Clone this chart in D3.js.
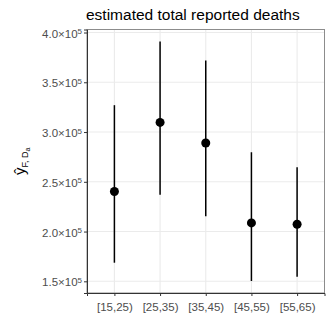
<!DOCTYPE html>
<html>
<head>
<meta charset="utf-8">
<script src="https://cdn.jsdelivr.net/npm/d3@7"></script>
<style>
body { margin: 0; background: #fff; }
svg text { font-family: "Liberation Sans", Arial, sans-serif; }
</style>
</head>
<body>
<div id="canvas"></div>
<script>
var groups = ["[15,25)", "[25,35)", "[35,45)", "[45,55)", "[55,65)"];
var estimate = [240300, 309700, 289000, 208700, 207300];
var lower = [168700, 237000, 215300, 150300, 154700];
var upper = [327000, 391000, 372000, 279700, 264700];
var yTicks = [150000, 200000, 250000, 300000, 350000, 400000];

var width = 332, height = 332;
var pLeft = 87, pRight = 324.5, pTop = 29.5, pBottom = 293;

var svg = d3.select("#canvas").append("svg")
	.attr("width", width)
	.attr("height", height);

// discrete axis, ggplot style: 0.6 unit padding each side
var x = d3.scalePoint().domain(groups)
	.range([pLeft, pRight]).padding(0.6);

var lo = d3.min(lower), hi = d3.max(upper);
var pad = (hi - lo) * 0.05;
var y = d3.scaleLinear().domain([lo - pad, hi + pad]).range([pBottom, pTop]);

// grid
svg.append("g").selectAll("line").data(yTicks).enter().append("line")
	.attr("x1", pLeft).attr("x2", pRight)
	.attr("y1", function (d) { return y(d); })
	.attr("y2", function (d) { return y(d); })
	.style("stroke", "#ebebeb").style("stroke-width", 1.1);
svg.append("g").selectAll("line").data(groups).enter().append("line")
	.attr("x1", function (d) { return x(d); })
	.attr("x2", function (d) { return x(d); })
	.attr("y1", pTop).attr("y2", pBottom)
	.style("stroke", "#ebebeb").style("stroke-width", 1.1);

// border
svg.append("rect")
	.attr("x", pLeft).attr("y", pTop)
	.attr("width", pRight - pLeft).attr("height", pBottom - pTop)
	.style("fill", "none").style("stroke", "#8c8c8c").style("stroke-width", 1);

// axes
var yAxis = svg.append("g")
	.attr("transform", "translate(" + pLeft + ",0)")
	.call(d3.axisLeft(y).tickValues(yTicks).tickSize(3).tickPadding(3).tickFormat(""));
var xAxis = svg.append("g")
	.attr("transform", "translate(0," + pBottom + ")")
	.call(d3.axisBottom(x).tickSize(3).tickPadding(4));
[yAxis, xAxis].forEach(function (a) {
	a.select(".domain").style("stroke", "#333333");
	a.selectAll(".tick line").style("stroke", "#333333");
	a.selectAll("text").style("fill", "#4d4d4d").style("font-size", "11.5px");
});
xAxis.selectAll("text").attr("dy", "0.95em");

// y tick labels as mantissa x 10^5
var lab = yAxis.selectAll(".tick").append("text")
	.attr("x", -5).attr("dy", "0.4em")
	.style("text-anchor", "end").style("fill", "#4d4d4d").style("font-size", "11.5px");
lab.append("tspan").text(function (d) { return d3.format(".1f")(d / 1e5) + "\u00d710"; });
lab.append("tspan").attr("dy", "-0.45em").style("font-size", "8px").text("5");

// error bars
svg.append("g").selectAll("line").data(groups).enter().append("line")
	.attr("x1", function (d) { return x(d); })
	.attr("x2", function (d) { return x(d); })
	.attr("y1", function (d, i) { return y(lower[i]); })
	.attr("y2", function (d, i) { return y(upper[i]); })
	.style("stroke", "#000").style("stroke-width", 1.5);

// points
svg.append("g").selectAll("circle").data(groups).enter().append("circle")
	.attr("cx", function (d) { return x(d); })
	.attr("cy", function (d, i) { return y(estimate[i]); })
	.attr("r", 4.5)
	.style("fill", "#000");

// title
svg.append("text")
	.attr("x", pLeft - 1).attr("y", 20)
	.style("font-size", "15.5px").style("fill", "#000")
	.text("estimated total reported deaths");

// y title: y-hat with subscript F, D_a
var yt = svg.append("text")
	.attr("transform", "translate(25," + ((pTop + pBottom) / 2) + ") rotate(-90)")
	.style("text-anchor", "middle").style("fill", "#000").style("font-size", "15px");
yt.append("tspan").text("\u0177");
yt.append("tspan").attr("dy", "3px").style("font-size", "9px").text("F, D");
yt.append("tspan").attr("dy", "2px").style("font-size", "7px").text("a");
</script>
</body>
</html>
